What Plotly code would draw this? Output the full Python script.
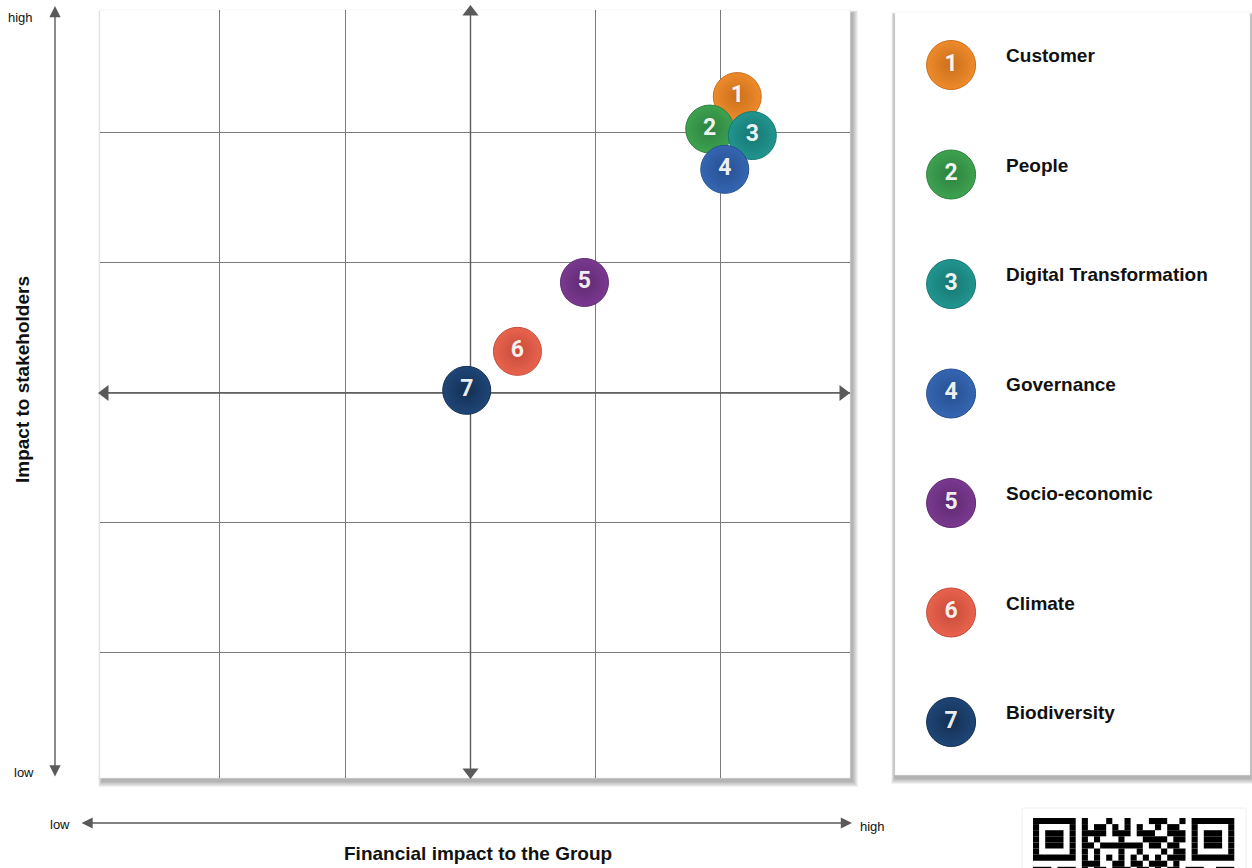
import plotly.graph_objects as go

# ---------------- data ----------------
topics = ["Customer", "People", "Digital Transformation", "Governance",
          "Socio-economic", "Climate", "Biodiversity"]
numbers = ["1", "2", "3", "4", "5", "6", "7"]
financial_impact = [5.13, 4.91, 5.25, 5.03, 3.91, 3.375, 2.97]
stakeholder_impact = [5.28, 5.03, 4.98, 4.72, 3.85, 3.32, 3.02]
colors = ["#EE8A2A", "#3DA24F", "#21958F", "#3566B2", "#7A3990", "#E9634E", "#1E4677"]
edge_colors = ["#C96F1C", "#2E8140", "#177772", "#274F90", "#5E2A70", "#C44B38", "#142F52"]
grid_vals = [1, 2, 3, 4, 5]
mid = 3  # centre of the matrix (medium impact)

W, H = 1252, 868
FONT = "Liberation Sans, Arial, sans-serif"
AC = "#5a5a5a"

def px(x):
    return x / W

def py(y):
    return 1 - y / H

fig = go.Figure()

# ---------- centre cross with arrowheads (under the bubbles) ----------
fig.add_trace(go.Scatter(
    x=[0.045, 6.03, None, mid, mid], y=[mid, mid, None, 0.04, 5.946],
    mode="lines", line=dict(color=AC, width=1.4), cliponaxis=False,
    hoverinfo="skip", xaxis="x", yaxis="y"))
fig.add_trace(go.Scatter(
    x=[0.082, 5.974, mid, mid], y=[mid, mid, 5.931, 0.085], mode="markers",
    marker=dict(symbol=["triangle-left", "triangle-right", "triangle-up", "triangle-down"],
                size=14, color=AC, line=dict(width=0)),
    cliponaxis=False, hoverinfo="skip", xaxis="x", yaxis="y"))

# ---------- bubbles on the matrix ----------
for i in range(len(topics)):
    fig.add_trace(go.Scatter(
        x=[financial_impact[i]], y=[stakeholder_impact[i]],
        mode="markers+text", text=[numbers[i]], textposition="middle center",
        marker=dict(size=48, color=colors[i],
                    gradient=dict(type="radial", color=edge_colors[i]),
                    line=dict(width=1, color=edge_colors[i])),
        textfont=dict(color="rgba(255,255,255,0.92)", size=23, family="Roboto", weight="bold"),
        cliponaxis=False, hoverinfo="skip", xaxis="x", yaxis="y"))

# ---------- legend panel ----------
leg_idx = list(range(len(topics)))
fig.add_trace(go.Scatter(
    x=[0.158] * len(topics), y=leg_idx, mode="markers+text", text=numbers,
    textposition="middle center",
    marker=dict(size=49, color=colors,
                gradient=dict(type="radial", color=edge_colors),
                line=dict(width=1, color=edge_colors)),
    textfont=dict(color="rgba(255,255,255,0.92)", size=23, family="Roboto", weight="bold"),
    cliponaxis=False, hoverinfo="skip", xaxis="x2", yaxis="y2"))
fig.add_trace(go.Scatter(
    x=[0.313] * len(topics), y=[v - 0.07 for v in leg_idx], mode="text", text=topics,
    textposition="middle right",
    textfont=dict(color="#111111", size=19, family=FONT, weight="bold"),
    cliponaxis=False, hoverinfo="skip", xaxis="x2", yaxis="y2"))

shapes = []
# shadows
def shadow(x0, y0, x1, y1, dx, dy, steps=6):
    out = []
    for k in range(steps, 0, -1):
        out.append(dict(type="rect", xref="paper", yref="paper", layer="below",
                        x0=px(x0 + dx - k * 0.6), x1=px(x1 + dx + k),
                        y0=py(y1 + dy + k), y1=py(y0 + dy - k * 0.4),
                        fillcolor="rgba(0,0,0,0.055)", line=dict(width=0)))
    return out

shapes += shadow(100, 10, 850, 778, 2, 3)
shapes += shadow(895, 12, 1250, 775, 0, 3)
shapes.append(dict(type="rect", xref="paper", yref="paper", layer="below",
                   x0=px(100), x1=px(850), y0=py(778), y1=py(10),
                   fillcolor="white", line=dict(width=0.6, color="#eeeeee")))
shapes.append(dict(type="rect", xref="paper", yref="paper", layer="below",
                   x0=px(895), x1=px(1250), y0=py(775), y1=py(12),
                   fillcolor="white", line=dict(width=0.6, color="#eeeeee")))

# QR code card (decorative)
shapes.append(dict(type="rect", xref="paper", yref="paper", layer="above",
                   x0=px(1022), x1=px(1246), y0=py(870), y1=py(808),
                   fillcolor="white", line=dict(width=1, color="#f0f0f0")))
qr_rows = [
    "111111101000100100011100101111111",
    "100000101011010101001011001000001",
    "101110101111011101110011101011101",
    "101110101010001000111101101011101",
    "101110101101111111011011001011101",
    "100000101010001001000101101000001",
    "111111101010101010101011101111111",
    "000000001110011011011101000000000",
    "111011101011011101101011011100111",
]
m = 6.1
for r, row in enumerate(qr_rows):
    c = 0
    while c < len(row):
        if row[c] == "1":
            s = c
            while c < len(row) and row[c] == "1":
                c += 1
            shapes.append(dict(type="rect", xref="paper", yref="paper", layer="above",
                               x0=px(1033 + s * m), x1=px(1033 + c * m),
                               y0=py(818 + (r + 1) * m), y1=py(818 + r * m),
                               fillcolor="black", line=dict(width=0)))
        else:
            c += 1

fig.update_layout(shapes=shapes)

# ---------- outer axis arrows ----------
def arrow(**kw):
    base = dict(text="", showarrow=True, arrowhead=2, startarrowhead=2,
                arrowside="end+start", arrowsize=1.6, startarrowsize=1.6,
                arrowwidth=1.4, arrowcolor=AC, standoff=0, startstandoff=0,
                xref="paper", yref="paper", xanchor="center", yanchor="middle")
    base.update(kw)
    return base

def label(text, x, y, size, bold=False, angle=0):
    return dict(text=text, x=px(x), y=py(y), xref="paper", yref="paper",
                showarrow=False, xanchor="center", yanchor="middle", textangle=angle,
                font=dict(size=size, family=FONT, color="#111",
                          weight="bold" if bold else "normal"))

annotations = [
    arrow(x=px(55), y=py(6), ax=0, ay=772),
    arrow(x=px(852), y=py(823), ax=-772, ay=0),
    label("high", 20, 17, 13),
    label("low", 24, 772, 13),
    label("low", 60, 824, 13),
    label("high", 872, 826, 13),
    label("Impact to stakeholders", 22, 380, 19, bold=True, angle=-90),
    label("Financial impact to the Group", 478, 853, 19, bold=True),
]

fig.update_layout(
    width=W, height=H, margin=dict(l=0, r=0, t=0, b=0),
    paper_bgcolor="white", plot_bgcolor="rgba(0,0,0,0)",
    showlegend=False, annotations=annotations,
    xaxis=dict(domain=[px(100), px(850)], range=[0.042, 6.03], tickvals=grid_vals,
               showgrid=True, gridcolor="#7a7a7a", gridwidth=1, showticklabels=False,
               zeroline=False, showline=False, ticks="", fixedrange=True),
    yaxis=dict(domain=[py(778), py(10)], range=[0.038, 5.946], tickvals=grid_vals,
               showgrid=True, gridcolor="#7a7a7a", gridwidth=1, showticklabels=False,
               zeroline=False, showline=False, ticks="", fixedrange=True),
    xaxis2=dict(domain=[px(895), px(1250)], range=[0, 1], visible=False, anchor="y2"),
    yaxis2=dict(domain=[py(775), py(12)], range=[6.484, -0.484], visible=False, anchor="x2"),
)

fig.write_html("out.html")
